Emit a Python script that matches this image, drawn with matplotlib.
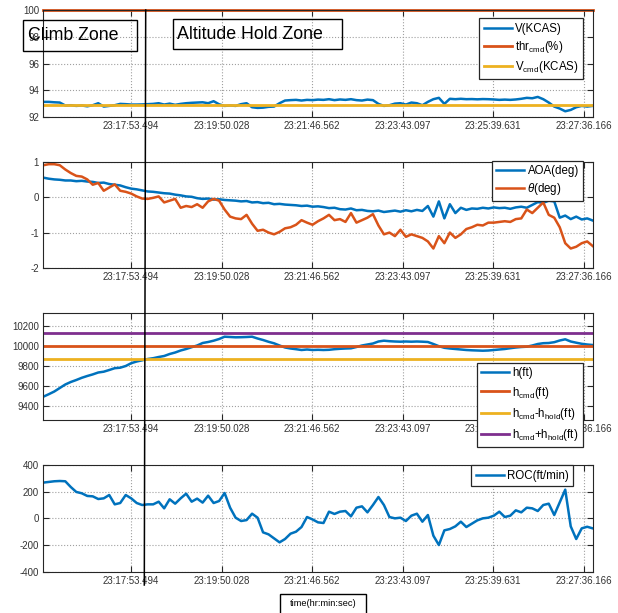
import numpy as np
import matplotlib.pyplot as plt
from matplotlib.lines import Line2D
from matplotlib.patches import Rectangle

plt.rcParams['font.family'] = ['Liberation Sans', 'DejaVu Sans']
plt.rcParams['mathtext.fontset'] = 'custom'
plt.rcParams['mathtext.rm'] = 'Liberation Sans'
plt.rcParams['mathtext.it'] = 'Liberation Sans:italic'
plt.rcParams['axes.unicode_minus'] = False

# --- recorded data (uniform samples between t_start and t_end) ---
t_start = '23:16:00.194'
t_end = '23:27:48.000'
tick_labels = ['23:17:53.494', '23:19:50.028', '23:21:46.562',
               '23:23:43.097', '23:25:39.631', '23:27:36.166']

v_kcas = [93.15, 93.15, 93.12, 93.10, 92.88, 92.90, 92.85, 92.88, 92.82, 92.90,
          93.05, 92.80, 92.85, 92.90, 93.00, 92.98, 92.95, 92.95, 92.96, 92.98,
          93.00, 93.05, 92.95, 93.02, 92.93, 93.00, 93.05, 93.08, 93.10, 93.12,
          93.05, 93.20, 92.97, 92.85, 92.88, 92.85, 92.98, 93.05, 92.75, 92.70,
          92.72, 92.78, 92.80, 93.05, 93.25, 93.28, 93.30, 93.25, 93.30, 93.28,
          93.32, 93.30, 93.35, 93.28, 93.33, 93.30, 93.35, 93.28, 93.25, 93.32,
          93.28, 93.00, 92.85, 92.90, 93.02, 93.05, 92.95, 93.10, 93.05, 92.90,
          93.15, 93.35, 93.45, 93.00, 93.38, 93.35, 93.38, 93.35, 93.36, 93.34,
          93.36, 93.35, 93.33, 93.30, 93.32, 93.30, 93.33, 93.38, 93.45, 93.42,
          93.52, 93.35, 93.10, 92.80, 92.65, 92.45, 92.55, 92.75, 92.85, 92.80,
          92.85]
thr_cmd = 100.0
v_cmd = 92.95

aoa = [0.55, 0.52, 0.50, 0.49, 0.47, 0.47, 0.45, 0.46, 0.44, 0.43,
       0.40, 0.41, 0.37, 0.35, 0.33, 0.28, 0.24, 0.22, 0.19, 0.16,
       0.15, 0.13, 0.11, 0.10, 0.07, 0.05, 0.02, 0.01, -0.03, -0.05,
       -0.04, -0.07, -0.06, -0.08, -0.09, -0.10, -0.12, -0.11, -0.15, -0.14,
       -0.17, -0.16, -0.20, -0.19, -0.21, -0.22, -0.23, -0.25, -0.24, -0.27,
       -0.26, -0.28, -0.31, -0.30, -0.34, -0.35, -0.32, -0.37, -0.36, -0.39,
       -0.40, -0.38, -0.42, -0.40, -0.38, -0.41, -0.37, -0.40, -0.36, -0.39,
       -0.25, -0.55, -0.12, -0.60, -0.20, -0.45, -0.30, -0.36, -0.32, -0.33,
       -0.30, -0.32, -0.29, -0.31, -0.30, -0.33, -0.29, -0.27, -0.30, -0.22,
       -0.14, -0.16, -0.10, -0.12, -0.58, -0.52, -0.62, -0.55, -0.63, -0.60,
       -0.66]

theta = [0.90, 0.93, 0.93, 0.90, 0.78, 0.68, 0.60, 0.58, 0.50, 0.35,
         0.40, 0.18, 0.27, 0.36, 0.18, 0.15, 0.10, 0.02, -0.04, -0.05,
         -0.02, 0.02, -0.15, -0.10, -0.05, -0.30, -0.25, -0.28, -0.20, -0.30,
         -0.12, -0.05, -0.10, -0.35, -0.55, -0.60, -0.62, -0.50, -0.75, -0.95,
         -0.92, -1.00, -1.05, -0.98, -0.88, -0.85, -0.78, -0.65, -0.72, -0.78,
         -0.68, -0.60, -0.50, -0.65, -0.62, -0.70, -0.45, -0.72, -0.65, -0.58,
         -0.48, -0.80, -1.05, -1.00, -1.10, -0.92, -1.12, -1.05, -1.10, -1.15,
         -1.25, -1.45, -1.10, -1.30, -1.00, -1.15, -1.05, -0.90, -0.85, -0.78,
         -0.80, -0.72, -0.72, -0.70, -0.68, -0.70, -0.62, -0.60, -0.35, -0.45,
         -0.30, -0.15, -0.50, -0.58, -0.85, -1.30, -1.45, -1.40, -1.30, -1.25,
         -1.38]

h_ft = [9493, 9518, 9545, 9580, 9615, 9640, 9660, 9682, 9700, 9716,
        9735, 9743, 9760, 9778, 9783, 9800, 9828, 9845, 9857, 9870,
        9878, 9890, 9900, 9920, 9935, 9955, 9970, 9988, 10005, 10030,
        10040, 10053, 10070, 10093, 10090, 10087, 10088, 10090, 10093, 10075,
        10060, 10042, 10027, 10005, 9985, 9975, 9968, 9960, 9965, 9960,
        9962, 9960, 9962, 9968, 9972, 9975, 9977, 9990, 10005, 10015,
        10025, 10045, 10053, 10048, 10045, 10043, 10045, 10043, 10045, 10043,
        10040, 10020, 9998, 9982, 9975, 9970, 9965, 9960, 9957, 9955,
        9953, 9955, 9960, 9965, 9970, 9978, 9985, 9990, 9993, 10005,
        10020, 10028, 10030, 10038, 10055, 10067, 10045, 10033, 10022, 10015,
        10010]
h_cmd = 10000
h_hold = 130

roc = [268, 273, 278, 280, 278, 235, 198, 188, 168, 165,
       145, 150, 175, 105, 115, 175, 150, 115, 100, 105,
       105, 125, 75, 143, 110, 150, 185, 125, 148, 118,
       170, 115, 130, 190, 80, 5, -20, -13, 35, 5,
       -105, -120, -150, -180, -155, -115, -100, -65, 10, -8,
       -30, -35, 50, 33, 50, 55, 15, 80, 90, 45,
       100, 160, 100, 10, 0, 5, -20, 20, 35, -25,
       25, -130, -200, -90, -80, -60, -25, -65, -40, -15,
       0, 5, 20, 50, 10, 20, 60, 45, 80, 75,
       55, 100, 110, 25, 120, 215, -60, -155, -75, -63,
       -75]

BLUE = '#0072BD'
ORANGE = '#D95319'
YELLOW = '#EDB120'
PURPLE = '#7E2F8E'
DARK = '#262626'


def to_sec(s):
    hh, mm, ss = s.split(':')
    return int(hh) * 3600 + int(mm) * 60 + float(ss)


t = np.linspace(to_sec(t_start), to_sec(t_end), len(v_kcas))
tick_pos = [to_sec(s) for s in tick_labels]

W, H = 618, 613
fig = plt.figure(figsize=(W / 100, H / 100), dpi=100)


def px_axes(top, bottom, left=43.3, right=592.7):
    return fig.add_axes([left / W, 1 - bottom / H, (right - left) / W, (bottom - top) / H])


def style(ax, ylim, yticks):
    ax.set_xlim(t[0], t[-1])
    ax.set_ylim(*ylim)
    ax.set_xticks(tick_pos)
    ax.set_xticklabels(tick_labels)
    ax.set_yticks(yticks)
    ax.grid(True, color='#a0a0a0', ls=':', lw=0.8)
    ax.tick_params(direction='in', top=True, right=True, length=4, width=0.8,
                   labelsize=7, labelcolor='#333333', color=DARK, pad=3)
    for sp in ax.spines.values():
        sp.set_color(DARK)
        sp.set_linewidth(0.8)


def legend(ax, anchor, fs=8.3, spacing=0.3):
    lg = ax.legend(loc='upper right', bbox_to_anchor=anchor, borderaxespad=0,
                   fontsize=fs, fancybox=False, framealpha=1, edgecolor=DARK,
                   handlelength=2.4, handletextpad=0.3, labelspacing=spacing,
                   borderpad=0.4)
    lg.get_frame().set_linewidth(0.9)
    lg.set_zorder(10)


def sub(base, s):
    return r'$\mathrm{' + base + r'}_{\mathrm{' + s + r'}}$'


# panel 1: airspeed
ax1 = px_axes(10, 117.3)
ax1.plot(t, v_kcas, color=BLUE, lw=1.8, label='V(KCAS)')
ax1.plot([t[0], t[-1]], [thr_cmd, thr_cmd], color=ORANGE, lw=2, clip_on=False,
         label=sub('thr', 'cmd') + '(%)')
ax1.plot([t[0], t[-1]], [v_cmd, v_cmd], color=YELLOW, lw=2, label=sub('V', 'cmd') + '(KCAS)')
style(ax1, (92, 100), [92, 94, 96, 98, 100])
legend(ax1, (0.983, 0.925), spacing=0.35)

# panel 2: angles
ax2 = px_axes(161.7, 268)
ax2.plot(t, aoa, color=BLUE, lw=1.8, label='AOA(deg)')
ax2.plot(t, theta, color=ORANGE, lw=1.8, label=r'$\theta$(deg)')
style(ax2, (-2, 1), [-2, -1, 0, 1])
legend(ax2, (0.983, 1.01))

# panel 3: altitude
ax3 = px_axes(313.3, 420)
ax3.plot(t, h_ft, color=BLUE, lw=1.8, label='h(ft)')
ax3.plot([t[0], t[-1]], [h_cmd, h_cmd], color=ORANGE, lw=2, label=sub('h', 'cmd') + '(ft)')
ax3.plot([t[0], t[-1]], [h_cmd - h_hold] * 2, color=YELLOW, lw=2,
         label=sub('h', 'cmd') + '-' + sub('h', 'hold') + '(ft)')
ax3.plot([t[0], t[-1]], [h_cmd + h_hold] * 2, color=PURPLE, lw=2,
         label=sub('h', 'cmd') + '+' + sub('h', 'hold') + '(ft)')
style(ax3, (9260, 10327), [9400, 9600, 9800, 10000, 10200])
legend(ax3, (0.983, 0.537), spacing=0.45)

# panel 4: rate of climb
ax4 = px_axes(465, 571.7)
ax4.plot(t, roc, color=BLUE, lw=1.8, label='ROC(ft/min)')
style(ax4, (-400, 400), [-400, -200, 0, 200, 400])
legend(ax4, (0.965, 1.0))


def px_box(x0, y0, x1, y1):
    fig.patches.append(Rectangle((x0 / W, 1 - y1 / H), (x1 - x0) / W, (y1 - y0) / H,
                                 transform=fig.transFigure, fill=False,
                                 ec='black', lw=1.0, zorder=20))


# zone annotations
px_box(23, 20, 137, 50.7)
fig.text(28.3 / W, 1 - 36 / H, 'Climb Zone', fontsize=12.8, va='center', ha='left', zorder=21)
px_box(172.7, 19, 341.7, 48.7)
fig.text(177.3 / W, 1 - 34.5 / H, 'Altitude Hold Zone', fontsize=12.8, va='center', ha='left', zorder=21)

fig.lines.append(Line2D([145.7 / W, 144.3 / W], [1 - 10 / H, 1 - 585 / H],
                        transform=fig.transFigure, color='black', lw=1.1, zorder=15))

# x label box
px_box(280, 594, 366, 620)
fig.text(323 / W, 1 - 604 / H, 'time(hr:min:sec)', fontsize=6.7, va='center', ha='center')

fig.savefig('out.png', dpi=100)
